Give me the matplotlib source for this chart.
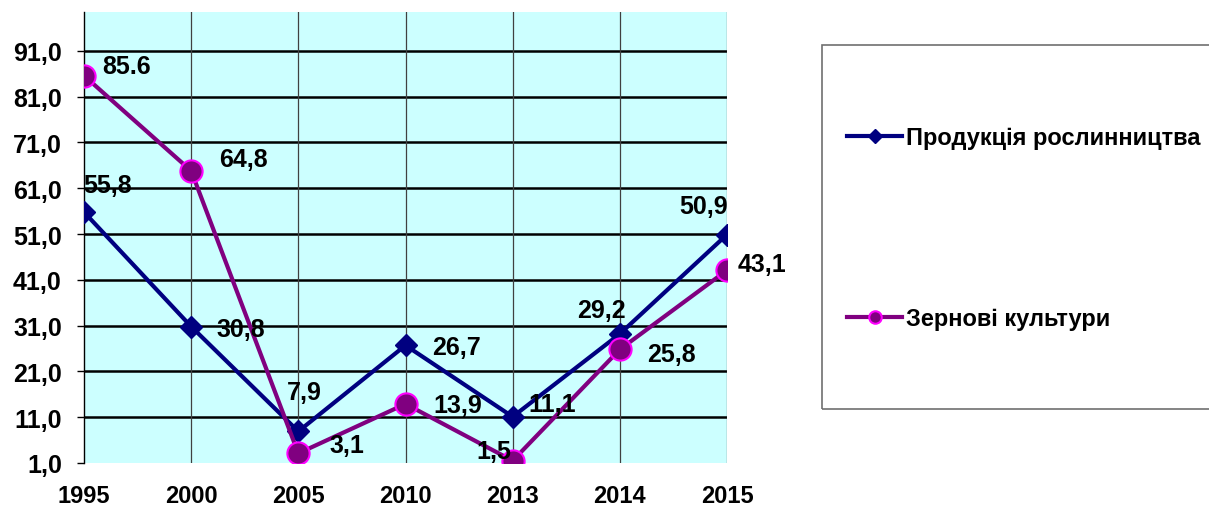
import numpy as np
import matplotlib
matplotlib.use("Agg")
import matplotlib.pyplot as plt
from matplotlib.lines import Line2D
from matplotlib.patches import Rectangle

plt.rcParams['font.family'] = ['Liberation Sans', 'DejaVu Sans']
plt.rcParams['font.weight'] = 'bold'

years = ['1995', '2000', '2005', '2010', '2013', '2014', '2015']
crop_prod = [55.8, 30.8, 7.9, 26.7, 11.1, 29.2, 50.9]      # Продукція рослинництва
grain     = [85.6, 64.8, 3.1, 13.9, 1.5, 25.8, 43.1]       # Зернові культури
crop_lbl  = ['55,8', '30,8', '7,9', '26,7', '11,1', '29,2', '50,9']
grain_lbl = ['85.6', '64,8', '3,1', '13,9', '1,5', '25,8', '43,1']
yticks = [1, 11, 21, 31, 41, 51, 61, 71, 81, 91]

# label offsets in pixels (dx, dy)
crop_off  = [(24, 27), (50, -2), (6, 39), (51, -2), (40, 13), (-18, 24), (-23, 29)]
grain_off = [(43, 10), (52, 12), (49, 8), (52, -1), (-19, 10), (52, -5), (35, 6)]

fig = plt.figure(figsize=(12.09, 5.06), dpi=100)
ax = fig.add_axes([84/1209, 1-464/506, (727-84)/1209, (464-13)/506])
ax.set_facecolor('#CCFFFF')

x = np.arange(len(years))
ax.set_xlim(0, len(years)-1)
ax.set_ylim(1, 99.5)

for yv in yticks[1:]:
    ax.axhline(yv, color='black', lw=1.8, zorder=1)
for xv in x[1:]:
    ax.axvline(xv, color='#404040', lw=0.9, zorder=1)

ax.plot(x, crop_prod, color='#000080', lw=3, marker='D', ms=11,
        mfc='#000080', mec='#000080', zorder=3)
ax.plot(x, grain, color='#800080', lw=3, marker='o', ms=16,
        mfc='#800080', mec='#FF00FF', mew=1.5, zorder=4)

for xi, v, t, (dx, dy) in zip(x, crop_prod, crop_lbl, crop_off):
    ax.annotate(t, (xi, v), xytext=(dx, dy), textcoords='offset pixels',
                ha='center', va='center', fontsize=18, fontweight='bold', zorder=5)
for xi, v, t, (dx, dy) in zip(x, grain, grain_lbl, grain_off):
    ax.annotate(t, (xi, v), xytext=(dx, dy), textcoords='offset pixels',
                ha='center', va='center', fontsize=18, fontweight='bold',
                zorder=5, annotation_clip=False)

ax.set_xticks(x)
ax.set_xticklabels(years, fontsize=17, fontweight='bold')
ax.set_yticks(yticks)
ax.set_yticklabels(['%d,0' % v for v in yticks], fontsize=18, fontweight='bold')
ax.tick_params(axis='x', length=0, pad=15)
ax.tick_params(axis='y', length=5, width=1, pad=11)
for s in ['top', 'right', 'bottom']:
    ax.spines[s].set_visible(False)
ax.spines['left'].set_linewidth(1)

# legend box
fig.patches.append(Rectangle((822/1209, 1-410/506), (1215-822)/1209, (410-46)/506,
                             transform=fig.transFigure, fill=False,
                             edgecolor='#707070', lw=1.2))
handles = [Line2D([], [], color='#000080', lw=3, marker='D', ms=7,
                  mfc='#000080', mec='#000080'),
           Line2D([], [], color='#800080', lw=3, marker='o', ms=9,
                  mfc='#800080', mec='#FF00FF', mew=1.5)]
fig.legend(handles, ['Продукція рослинництва', 'Зернові культури'],
           loc='center left', bbox_to_anchor=(847/1209, 1-229/506),
           frameon=False, prop={'weight': 'bold', 'size': 17},
           handlelength=2.33, handletextpad=0.17, labelspacing=6.7,
           borderpad=0, borderaxespad=0)

fig.savefig('out.png', dpi=100)
